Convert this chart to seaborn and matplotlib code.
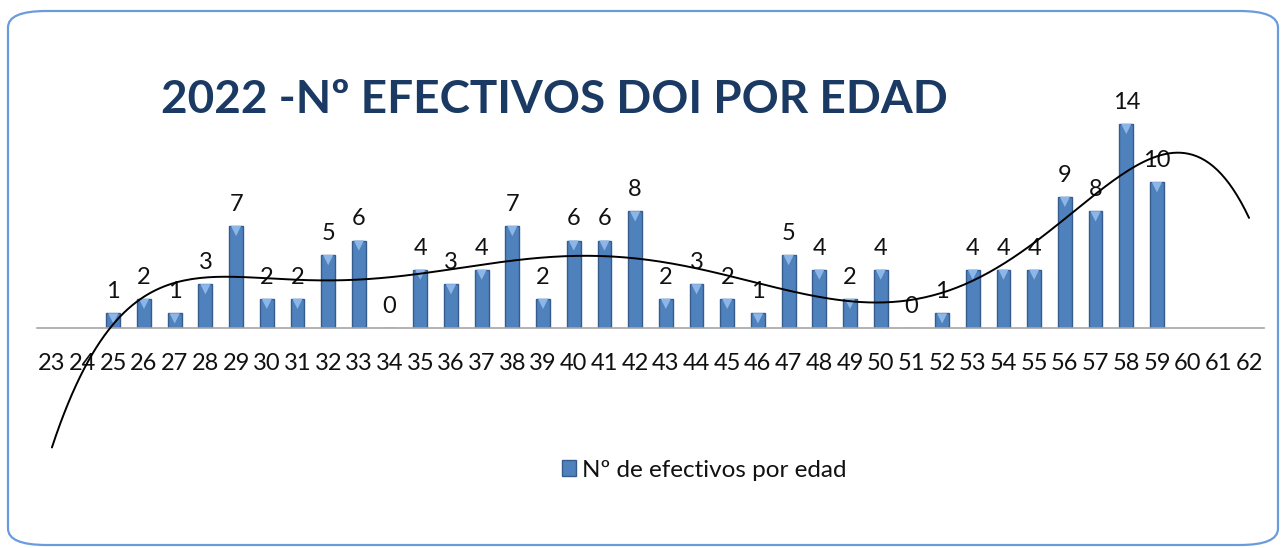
import numpy as np
import pandas as pd
import matplotlib
matplotlib.use("Agg")
import matplotlib.pyplot as plt
import matplotlib.transforms as mtransforms
from matplotlib.patches import FancyBboxPatch, Patch
import seaborn as sns

# ages shown on the axis (23..62) and the number of staff per age
ages = [str(a) for a in range(23, 63)]
counts = [np.nan, np.nan, 1, 2, 1, 3, 7, 2, 2, 5, 6, 0, 4, 3, 4, 7, 2, 6, 6, 8,
          2, 3, 2, 1, 5, 4, 2, 4, 0, 1, 4, 4, 4, 9, 8, 14, 10, np.nan, np.nan, np.nan]

title = "2022 -Nº EFECTIVOS DOI POR EDAD"
legend_label = "Nº de efectivos por edad"

BAR = "#4F81BD"
EDGE = "#355C8C"
TITLE_C = "#1B3A63"

sns.set_theme(style="white")
plt.rcParams["font.family"] = ["Lato", "DejaVu Sans"]

df = pd.DataFrame({"edad": ages, "n": counts})

fig = plt.figure(figsize=(12.83, 5.48), dpi=100)
ax = fig.add_axes([0.0285, 0.4015, 0.957, 0.399])

sns.barplot(data=df, x="edad", y="n", order=ages, color=BAR, width=0.45,
            edgecolor=EDGE, linewidth=1.0, saturation=1, ax=ax)

# small light triangles on top of the bars (bevel look)
pos = np.arange(len(ages))
vals = np.array(counts, dtype=float)
has = ~np.isnan(vals) & (vals > 0)
tri = mtransforms.offset_copy(ax.transData, fig=fig, y=-5, units="dots")
ax.scatter(pos[has], vals[has], marker="v", s=55, color="#8DB6E8",
           edgecolor="none", transform=tri, zorder=3)

# data labels
ax.bar_label(ax.containers[0], fmt="%g", padding=8, fontsize=17, color="#111111")

# polynomial trendline (order 6), like the spreadsheet one
ok = ~np.isnan(vals)
coef = np.polyfit(pos[ok], vals[ok], 6)
xs = np.linspace(0, len(ages) - 1, 300)
ax.plot(xs, np.polyval(coef, xs), color="black", lw=1.4, clip_on=False, zorder=4)

ax.set_xlim(-0.5, len(ages) - 0.5)
ax.set_ylim(0, 15)
ax.set_xlabel("")
ax.set_ylabel("")
ax.set_yticks([])
ax.tick_params(axis="x", length=0, pad=18, labelsize=17, labelcolor="#111111")
for s in ["top", "right", "left"]:
    ax.spines[s].set_visible(False)
ax.spines["bottom"].set_color("#A6A6A6")
ax.spines["bottom"].set_linewidth(1.2)

fig.text(0.432, 0.818, title, fontsize=33, fontweight="bold", color=TITLE_C,
         ha="center", va="center")

handle = Patch(facecolor=BAR, edgecolor=EDGE)
fig.legend([handle], [legend_label], loc="center", bbox_to_anchor=(0.549, 0.142),
           frameon=False, fontsize=17.5, handlelength=0.6, handleheight=0.6,
           handletextpad=0.25, labelcolor="#111111")

border = FancyBboxPatch((8 / 1283, 3 / 548), 1270 / 1283, 534 / 548,
                        boxstyle="round,pad=0,rounding_size=0.03",
                        transform=fig.transFigure, facecolor="none",
                        edgecolor="#6A9BDC", linewidth=1.6)
fig.patches.append(border)

fig.savefig("out.png", dpi=100)
